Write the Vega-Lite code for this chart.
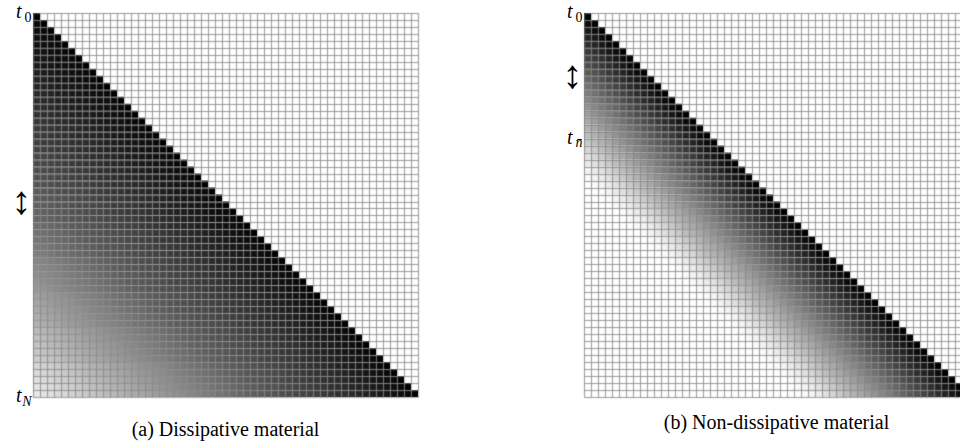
{
  "$schema": "https://vega.github.io/schema/vega-lite/v6.json",
  "background": "white",
  "padding": {"left": 5, "top": -3, "right": 0, "bottom": 0},
  "spacing": 138,
  "config": {"view": {"stroke": null}},
  "hconcat": [
    {
      "width": 385,
      "height": 384,
      "title": {"text": "(a) Dissipative material", "orient": "bottom", "anchor": "middle", "frame": "group", "font": "Liberation Serif, Times New Roman, serif", "fontSize": 20, "fontWeight": "normal", "color": "black", "baseline": "top", "offset": 12},
      "data": {
        "format": {"type": "csv", "parse": {"r": "number", "c": "number", "w": "number"}},
        "values": "r,c,w\n0,0,255\n1,0,245\n1,1,255\n2,0,242\n2,1,245\n2,2,255\n3,0,239\n3,1,242\n3,2,245\n3,3,255\n4,0,236\n4,1,239\n4,2,242\n4,3,245\n4,4,255\n5,0,233\n5,1,236\n5,2,239\n5,3,242\n5,4,245\n5,5,255\n6,0,230\n6,1,233\n6,2,236\n6,3,239\n6,4,242\n6,5,245\n6,6,255\n7,0,226\n7,1,230\n7,2,233\n7,3,236\n7,4,239\n7,5,242\n7,6,245\n7,7,255\n8,0,223\n8,1,226\n8,2,230\n8,3,233\n8,4,236\n8,5,239\n8,6,242\n8,7,245\n8,8,255\n9,0,220\n9,1,223\n9,2,226\n9,3,230\n9,4,233\n9,5,236\n9,6,239\n9,7,242\n9,8,245\n9,9,255\n10,0,216\n10,1,219\n10,2,223\n10,3,226\n10,4,229\n10,5,232\n10,6,235\n10,7,238\n10,8,242\n10,9,245\n10,10,255\n11,0,213\n11,1,216\n11,2,219\n11,3,223\n11,4,226\n11,5,229\n11,6,232\n11,7,235\n11,8,238\n11,9,242\n11,10,245\n11,11,255\n12,0,210\n12,1,213\n12,2,216\n12,3,219\n12,4,223\n12,5,226\n12,6,229\n12,7,232\n12,8,235\n12,9,238\n12,10,242\n12,11,245\n12,12,255\n13,0,207\n13,1,210\n13,2,213\n13,3,216\n13,4,219\n13,5,223\n13,6,226\n13,7,229\n13,8,232\n13,9,235\n13,10,238\n13,11,242\n13,12,245\n13,13,255\n14,0,204\n14,1,207\n14,2,210\n14,3,213\n14,4,216\n14,5,219\n14,6,223\n14,7,226\n14,8,229\n14,9,232\n14,10,235\n14,11,238\n14,12,242\n14,13,245\n14,14,255\n15,0,200\n15,1,203\n15,2,206\n15,3,209\n15,4,212\n15,5,215\n15,6,218\n15,7,222\n15,8,225\n15,9,228\n15,10,232\n15,11,235\n15,12,238\n15,13,241\n15,14,245\n15,15,255\n16,0,197\n16,1,200\n16,2,203\n16,3,206\n16,4,209\n16,5,212\n16,6,215\n16,7,218\n16,8,222\n16,9,225\n16,10,228\n16,11,232\n16,12,235\n16,13,238\n16,14,241\n16,15,245\n16,16,255\n17,0,194\n17,1,197\n17,2,200\n17,3,203\n17,4,206\n17,5,209\n17,6,212\n17,7,215\n17,8,218\n17,9,222\n17,10,225\n17,11,228\n17,12,232\n17,13,235\n17,14,238\n17,15,241\n17,16,245\n17,17,255\n18,0,191\n18,1,194\n18,2,197\n18,3,200\n18,4,203\n18,5,206\n18,6,209\n18,7,212\n18,8,215\n18,9,218\n18,10,222\n18,11,225\n18,12,228\n18,13,232\n18,14,235\n18,15,238\n18,16,241\n18,17,245\n18,18,255\n19,0,188\n19,1,191\n19,2,194\n19,3,197\n19,4,200\n19,5,203\n19,6,206\n19,7,209\n19,8,212\n19,9,215\n19,10,218\n19,11,222\n19,12,225\n19,13,228\n19,14,232\n19,15,235\n19,16,238\n19,17,241\n19,18,245\n19,19,255\n20,0,183\n20,1,186\n20,2,189\n20,3,192\n20,4,195\n20,5,198\n20,6,202\n20,7,205\n20,8,208\n20,9,211\n20,10,214\n20,11,217\n20,12,221\n20,13,224\n20,14,228\n20,15,231\n20,16,234\n20,17,238\n20,18,241\n20,19,245\n20,20,255\n21,0,180\n21,1,183\n21,2,186\n21,3,189\n21,4,192\n21,5,195\n21,6,198\n21,7,202\n21,8,205\n21,9,208\n21,10,211\n21,11,214\n21,12,217\n21,13,221\n21,14,224\n21,15,228\n21,16,231\n21,17,234\n21,18,238\n21,19,241\n21,20,245\n21,21,255\n22,0,177\n22,1,180\n22,2,183\n22,3,186\n22,4,189\n22,5,192\n22,6,195\n22,7,198\n22,8,202\n22,9,205\n22,10,208\n22,11,211\n22,12,214\n22,13,217\n22,14,221\n22,15,224\n22,16,228\n22,17,231\n22,18,234\n22,19,238\n22,20,241\n22,21,245\n22,22,255\n23,0,174\n23,1,177\n23,2,180\n23,3,183\n23,4,186\n23,5,189\n23,6,192\n23,7,195\n23,8,198\n23,9,202\n23,10,205\n23,11,208\n23,12,211\n23,13,214\n23,14,217\n23,15,221\n23,16,224\n23,17,228\n23,18,231\n23,19,234\n23,20,238\n23,21,241\n23,22,245\n23,23,255\n24,0,171\n24,1,174\n24,2,177\n24,3,180\n24,4,183\n24,5,186\n24,6,189\n24,7,192\n24,8,195\n24,9,198\n24,10,202\n24,11,205\n24,12,208\n24,13,211\n24,14,214\n24,15,217\n24,16,221\n24,17,224\n24,18,228\n24,19,231\n24,20,234\n24,21,238\n24,22,241\n24,23,245\n24,24,255\n25,0,165\n25,1,168\n25,2,171\n25,3,175\n25,4,178\n25,5,181\n25,6,184\n25,7,187\n25,8,191\n25,9,194\n25,10,197\n25,11,200\n25,12,203\n25,13,207\n25,14,210\n25,15,213\n25,16,217\n25,17,220\n25,18,224\n25,19,227\n25,20,231\n25,21,234\n25,22,238\n25,23,241\n25,24,245\n25,25,255\n26,0,162\n26,1,165\n26,2,168\n26,3,171\n26,4,175\n26,5,178\n26,6,181\n26,7,184\n26,8,187\n26,9,191\n26,10,194\n26,11,197\n26,12,200\n26,13,203\n26,14,207\n26,15,210\n26,16,213\n26,17,217\n26,18,220\n26,19,224\n26,20,227\n26,21,231\n26,22,234\n26,23,238\n26,24,241\n26,25,245\n26,26,255\n27,0,159\n27,1,162\n27,2,165\n27,3,168\n27,4,171\n27,5,175\n27,6,178\n27,7,181\n27,8,184\n27,9,187\n27,10,191\n27,11,194\n27,12,197\n27,13,200\n27,14,203\n27,15,207\n27,16,210\n27,17,213\n27,18,217\n27,19,220\n27,20,224\n27,21,227\n27,22,231\n27,23,234\n27,24,238\n27,25,241\n27,26,245\n27,27,255\n28,0,155\n28,1,159\n28,2,162\n28,3,165\n28,4,168\n28,5,171\n28,6,175\n28,7,178\n28,8,181\n28,9,184\n28,10,187\n28,11,191\n28,12,194\n28,13,197\n28,14,200\n28,15,203\n28,16,207\n28,17,210\n28,18,213\n28,19,217\n28,20,220\n28,21,224\n28,22,227\n28,23,231\n28,24,234\n28,25,238\n28,26,241\n28,27,245\n28,28,255\n29,0,151\n29,1,155\n29,2,159\n29,3,162\n29,4,165\n29,5,168\n29,6,171\n29,7,175\n29,8,178\n29,9,181\n29,10,184\n29,11,187\n29,12,191\n29,13,194\n29,14,197\n29,15,200\n29,16,203\n29,17,207\n29,18,210\n29,19,213\n29,20,217\n29,21,220\n29,22,224\n29,23,227\n29,24,231\n29,25,234\n29,26,238\n29,27,241\n29,28,245\n29,29,255\n30,0,144\n30,1,148\n30,2,152\n30,3,155\n30,4,159\n30,5,163\n30,6,166\n30,7,169\n30,8,172\n30,9,176\n30,10,179\n30,11,182\n30,12,186\n30,13,189\n30,14,192\n30,15,196\n30,16,199\n30,17,202\n30,18,205\n30,19,209\n30,20,212\n30,21,216\n30,22,219\n30,23,223\n30,24,226\n30,25,230\n30,26,234\n30,27,237\n30,28,241\n30,29,245\n30,30,255\n31,0,140\n31,1,144\n31,2,148\n31,3,152\n31,4,155\n31,5,159\n31,6,163\n31,7,166\n31,8,169\n31,9,172\n31,10,176\n31,11,179\n31,12,182\n31,13,186\n31,14,189\n31,15,192\n31,16,196\n31,17,199\n31,18,202\n31,19,205\n31,20,209\n31,21,212\n31,22,216\n31,23,219\n31,24,223\n31,25,226\n31,26,230\n31,27,234\n31,28,237\n31,29,241\n31,30,245\n31,31,255\n32,0,136\n32,1,140\n32,2,144\n32,3,148\n32,4,152\n32,5,155\n32,6,159\n32,7,163\n32,8,166\n32,9,169\n32,10,172\n32,11,176\n32,12,179\n32,13,182\n32,14,186\n32,15,189\n32,16,192\n32,17,196\n32,18,199\n32,19,202\n32,20,205\n32,21,209\n32,22,212\n32,23,216\n32,24,219\n32,25,223\n32,26,226\n32,27,230\n32,28,234\n32,29,237\n32,30,241\n32,31,245\n32,32,255\n33,0,132\n33,1,136\n33,2,140\n33,3,144\n33,4,148\n33,5,152\n33,6,155\n33,7,159\n33,8,163\n33,9,166\n33,10,169\n33,11,172\n33,12,176\n33,13,179\n33,14,182\n33,15,186\n33,16,189\n33,17,192\n33,18,196\n33,19,199\n33,20,202\n33,21,205\n33,22,209\n33,23,212\n33,24,216\n33,25,219\n33,26,223\n33,27,226\n33,28,230\n33,29,234\n33,30,237\n33,31,241\n33,32,245\n33,33,255\n34,0,128\n34,1,132\n34,2,136\n34,3,140\n34,4,144\n34,5,148\n34,6,152\n34,7,155\n34,8,159\n34,9,163\n34,10,166\n34,11,169\n34,12,172\n34,13,176\n34,14,179\n34,15,182\n34,16,186\n34,17,189\n34,18,192\n34,19,196\n34,20,199\n34,21,202\n34,22,205\n34,23,209\n34,24,212\n34,25,216\n34,26,219\n34,27,223\n34,28,226\n34,29,230\n34,30,234\n34,31,237\n34,32,241\n34,33,245\n34,34,255\n35,0,120\n35,1,124\n35,2,128\n35,3,132\n35,4,136\n35,5,140\n35,6,144\n35,7,148\n35,8,152\n35,9,156\n35,10,160\n35,11,164\n35,12,167\n35,13,170\n35,14,174\n35,15,177\n35,16,181\n35,17,184\n35,18,187\n35,19,191\n35,20,194\n35,21,198\n35,22,201\n35,23,204\n35,24,208\n35,25,211\n35,26,215\n35,27,218\n35,28,222\n35,29,226\n35,30,229\n35,31,233\n35,32,237\n35,33,241\n35,34,245\n35,35,255\n36,0,116\n36,1,120\n36,2,124\n36,3,128\n36,4,132\n36,5,136\n36,6,140\n36,7,144\n36,8,148\n36,9,152\n36,10,156\n36,11,160\n36,12,164\n36,13,167\n36,14,170\n36,15,174\n36,16,177\n36,17,181\n36,18,184\n36,19,187\n36,20,191\n36,21,194\n36,22,198\n36,23,201\n36,24,204\n36,25,208\n36,26,211\n36,27,215\n36,28,218\n36,29,222\n36,30,226\n36,31,229\n36,32,233\n36,33,237\n36,34,241\n36,35,245\n36,36,255\n37,0,112\n37,1,116\n37,2,120\n37,3,124\n37,4,128\n37,5,132\n37,6,136\n37,7,140\n37,8,144\n37,9,148\n37,10,152\n37,11,156\n37,12,160\n37,13,164\n37,14,167\n37,15,170\n37,16,174\n37,17,177\n37,18,181\n37,19,184\n37,20,187\n37,21,191\n37,22,194\n37,23,198\n37,24,201\n37,25,204\n37,26,208\n37,27,211\n37,28,215\n37,29,218\n37,30,222\n37,31,226\n37,32,229\n37,33,233\n37,34,237\n37,35,241\n37,36,245\n37,37,255\n38,0,107\n38,1,112\n38,2,116\n38,3,120\n38,4,124\n38,5,128\n38,6,132\n38,7,136\n38,8,140\n38,9,144\n38,10,148\n38,11,152\n38,12,156\n38,13,160\n38,14,164\n38,15,167\n38,16,170\n38,17,174\n38,18,177\n38,19,181\n38,20,184\n38,21,187\n38,22,191\n38,23,194\n38,24,198\n38,25,201\n38,26,204\n38,27,208\n38,28,211\n38,29,215\n38,30,218\n38,31,222\n38,32,226\n38,33,229\n38,34,233\n38,35,237\n38,36,241\n38,37,245\n38,38,255\n39,0,103\n39,1,107\n39,2,112\n39,3,116\n39,4,120\n39,5,124\n39,6,128\n39,7,132\n39,8,136\n39,9,140\n39,10,144\n39,11,148\n39,12,152\n39,13,156\n39,14,160\n39,15,164\n39,16,167\n39,17,170\n39,18,174\n39,19,177\n39,20,181\n39,21,184\n39,22,187\n39,23,191\n39,24,194\n39,25,198\n39,26,201\n39,27,204\n39,28,208\n39,29,211\n39,30,215\n39,31,218\n39,32,222\n39,33,226\n39,34,229\n39,35,233\n39,36,237\n39,37,241\n39,38,245\n39,39,255\n40,0,95\n40,1,99\n40,2,103\n40,3,107\n40,4,111\n40,5,116\n40,6,120\n40,7,124\n40,8,128\n40,9,132\n40,10,137\n40,11,141\n40,12,145\n40,13,149\n40,14,153\n40,15,158\n40,16,161\n40,17,165\n40,18,168\n40,19,172\n40,20,175\n40,21,179\n40,22,182\n40,23,186\n40,24,189\n40,25,193\n40,26,196\n40,27,200\n40,28,203\n40,29,207\n40,30,210\n40,31,214\n40,32,217\n40,33,221\n40,34,225\n40,35,229\n40,36,233\n40,37,237\n40,38,240\n40,39,245\n40,40,255\n41,0,90\n41,1,95\n41,2,99\n41,3,103\n41,4,107\n41,5,111\n41,6,116\n41,7,120\n41,8,124\n41,9,128\n41,10,132\n41,11,137\n41,12,141\n41,13,145\n41,14,149\n41,15,153\n41,16,158\n41,17,161\n41,18,165\n41,19,168\n41,20,172\n41,21,175\n41,22,179\n41,23,182\n41,24,186\n41,25,189\n41,26,193\n41,27,196\n41,28,200\n41,29,203\n41,30,207\n41,31,210\n41,32,214\n41,33,217\n41,34,221\n41,35,225\n41,36,229\n41,37,233\n41,38,237\n41,39,240\n41,40,245\n41,41,255\n42,0,86\n42,1,90\n42,2,95\n42,3,99\n42,4,103\n42,5,107\n42,6,111\n42,7,116\n42,8,120\n42,9,124\n42,10,128\n42,11,132\n42,12,137\n42,13,141\n42,14,145\n42,15,149\n42,16,153\n42,17,158\n42,18,161\n42,19,165\n42,20,168\n42,21,172\n42,22,175\n42,23,179\n42,24,182\n42,25,186\n42,26,189\n42,27,193\n42,28,196\n42,29,200\n42,30,203\n42,31,207\n42,32,210\n42,33,214\n42,34,217\n42,35,221\n42,36,225\n42,37,229\n42,38,233\n42,39,237\n42,40,240\n42,41,245\n42,42,255\n43,0,82\n43,1,86\n43,2,90\n43,3,95\n43,4,99\n43,5,103\n43,6,107\n43,7,111\n43,8,116\n43,9,120\n43,10,124\n43,11,128\n43,12,132\n43,13,137\n43,14,141\n43,15,145\n43,16,149\n43,17,153\n43,18,158\n43,19,161\n43,20,165\n43,21,168\n43,22,172\n43,23,175\n43,24,179\n43,25,182\n43,26,186\n43,27,189\n43,28,193\n43,29,196\n43,30,200\n43,31,203\n43,32,207\n43,33,210\n43,34,214\n43,35,217\n43,36,221\n43,37,225\n43,38,229\n43,39,233\n43,40,237\n43,41,240\n43,42,245\n43,43,255\n44,0,78\n44,1,82\n44,2,86\n44,3,90\n44,4,95\n44,5,99\n44,6,103\n44,7,107\n44,8,111\n44,9,116\n44,10,120\n44,11,124\n44,12,128\n44,13,132\n44,14,137\n44,15,141\n44,16,145\n44,17,149\n44,18,153\n44,19,158\n44,20,161\n44,21,165\n44,22,168\n44,23,172\n44,24,175\n44,25,179\n44,26,182\n44,27,186\n44,28,189\n44,29,193\n44,30,196\n44,31,200\n44,32,203\n44,33,207\n44,34,210\n44,35,214\n44,36,217\n44,37,221\n44,38,225\n44,39,229\n44,40,233\n44,41,237\n44,42,240\n44,43,245\n44,44,255\n45,0,69\n45,1,73\n45,2,77\n45,3,81\n45,4,86\n45,5,90\n45,6,94\n45,7,99\n45,8,103\n45,9,107\n45,10,112\n45,11,116\n45,12,120\n45,13,125\n45,14,129\n45,15,133\n45,16,138\n45,17,142\n45,18,146\n45,19,150\n45,20,155\n45,21,159\n45,22,163\n45,23,166\n45,24,170\n45,25,173\n45,26,177\n45,27,180\n45,28,184\n45,29,188\n45,30,191\n45,31,195\n45,32,198\n45,33,202\n45,34,206\n45,35,209\n45,36,213\n45,37,217\n45,38,221\n45,39,224\n45,40,228\n45,41,232\n45,42,236\n45,43,240\n45,44,245\n45,45,255\n46,0,64\n46,1,69\n46,2,73\n46,3,77\n46,4,81\n46,5,86\n46,6,90\n46,7,94\n46,8,99\n46,9,103\n46,10,107\n46,11,112\n46,12,116\n46,13,120\n46,14,125\n46,15,129\n46,16,133\n46,17,138\n46,18,142\n46,19,146\n46,20,150\n46,21,155\n46,22,159\n46,23,163\n46,24,166\n46,25,170\n46,26,173\n46,27,177\n46,28,180\n46,29,184\n46,30,188\n46,31,191\n46,32,195\n46,33,198\n46,34,202\n46,35,206\n46,36,209\n46,37,213\n46,38,217\n46,39,221\n46,40,224\n46,41,228\n46,42,232\n46,43,236\n46,44,240\n46,45,245\n46,46,255\n47,0,60\n47,1,64\n47,2,69\n47,3,73\n47,4,77\n47,5,81\n47,6,86\n47,7,90\n47,8,94\n47,9,99\n47,10,103\n47,11,107\n47,12,112\n47,13,116\n47,14,120\n47,15,125\n47,16,129\n47,17,133\n47,18,138\n47,19,142\n47,20,146\n47,21,150\n47,22,155\n47,23,159\n47,24,163\n47,25,166\n47,26,170\n47,27,173\n47,28,177\n47,29,180\n47,30,184\n47,31,188\n47,32,191\n47,33,195\n47,34,198\n47,35,202\n47,36,206\n47,37,209\n47,38,213\n47,39,217\n47,40,221\n47,41,224\n47,42,228\n47,43,232\n47,44,236\n47,45,240\n47,46,245\n47,47,255\n48,0,56\n48,1,60\n48,2,64\n48,3,69\n48,4,73\n48,5,77\n48,6,81\n48,7,86\n48,8,90\n48,9,94\n48,10,99\n48,11,103\n48,12,107\n48,13,112\n48,14,116\n48,15,120\n48,16,125\n48,17,129\n48,18,133\n48,19,138\n48,20,142\n48,21,146\n48,22,150\n48,23,155\n48,24,159\n48,25,163\n48,26,166\n48,27,170\n48,28,173\n48,29,177\n48,30,180\n48,31,184\n48,32,188\n48,33,191\n48,34,195\n48,35,198\n48,36,202\n48,37,206\n48,38,209\n48,39,213\n48,40,217\n48,41,221\n48,42,224\n48,43,228\n48,44,232\n48,45,236\n48,46,240\n48,47,245\n48,48,255\n49,0,51\n49,1,56\n49,2,60\n49,3,64\n49,4,69\n49,5,73\n49,6,77\n49,7,81\n49,8,86\n49,9,90\n49,10,94\n49,11,99\n49,12,103\n49,13,107\n49,14,112\n49,15,116\n49,16,120\n49,17,125\n49,18,129\n49,19,133\n49,20,138\n49,21,142\n49,22,146\n49,23,150\n49,24,155\n49,25,159\n49,26,163\n49,27,166\n49,28,170\n49,29,173\n49,30,177\n49,31,180\n49,32,184\n49,33,188\n49,34,191\n49,35,195\n49,36,198\n49,37,202\n49,38,206\n49,39,209\n49,40,213\n49,41,217\n49,42,221\n49,43,224\n49,44,228\n49,45,232\n49,46,236\n49,47,240\n49,48,245\n49,49,255\n50,0,41\n50,1,46\n50,2,50\n50,3,54\n50,4,59\n50,5,63\n50,6,68\n50,7,72\n50,8,77\n50,9,81\n50,10,85\n50,11,90\n50,12,94\n50,13,99\n50,14,103\n50,15,108\n50,16,112\n50,17,116\n50,18,121\n50,19,125\n50,20,130\n50,21,134\n50,22,139\n50,23,143\n50,24,147\n50,25,152\n50,26,156\n50,27,160\n50,28,164\n50,29,168\n50,30,171\n50,31,175\n50,32,179\n50,33,182\n50,34,186\n50,35,190\n50,36,193\n50,37,197\n50,38,201\n50,39,205\n50,40,208\n50,41,212\n50,42,216\n50,43,220\n50,44,224\n50,45,228\n50,46,232\n50,47,236\n50,48,240\n50,49,245\n50,50,255\n51,0,37\n51,1,41\n51,2,46\n51,3,50\n51,4,54\n51,5,59\n51,6,63\n51,7,68\n51,8,72\n51,9,77\n51,10,81\n51,11,85\n51,12,90\n51,13,94\n51,14,99\n51,15,103\n51,16,108\n51,17,112\n51,18,116\n51,19,121\n51,20,125\n51,21,130\n51,22,134\n51,23,139\n51,24,143\n51,25,147\n51,26,152\n51,27,156\n51,28,160\n51,29,164\n51,30,168\n51,31,171\n51,32,175\n51,33,179\n51,34,182\n51,35,186\n51,36,190\n51,37,193\n51,38,197\n51,39,201\n51,40,205\n51,41,208\n51,42,212\n51,43,216\n51,44,220\n51,45,224\n51,46,228\n51,47,232\n51,48,236\n51,49,240\n51,50,245\n51,51,255\n52,0,32\n52,1,37\n52,2,41\n52,3,46\n52,4,50\n52,5,54\n52,6,59\n52,7,63\n52,8,68\n52,9,72\n52,10,77\n52,11,81\n52,12,85\n52,13,90\n52,14,94\n52,15,99\n52,16,103\n52,17,108\n52,18,112\n52,19,116\n52,20,121\n52,21,125\n52,22,130\n52,23,134\n52,24,139\n52,25,143\n52,26,147\n52,27,152\n52,28,156\n52,29,160\n52,30,164\n52,31,168\n52,32,171\n52,33,175\n52,34,179\n52,35,182\n52,36,186\n52,37,190\n52,38,193\n52,39,197\n52,40,201\n52,41,205\n52,42,208\n52,43,212\n52,44,216\n52,45,220\n52,46,224\n52,47,228\n52,48,232\n52,49,236\n52,50,240\n52,51,245\n52,52,255\n53,0,28\n53,1,32\n53,2,37\n53,3,41\n53,4,46\n53,5,50\n53,6,54\n53,7,59\n53,8,63\n53,9,68\n53,10,72\n53,11,77\n53,12,81\n53,13,85\n53,14,90\n53,15,94\n53,16,99\n53,17,103\n53,18,108\n53,19,112\n53,20,116\n53,21,121\n53,22,125\n53,23,130\n53,24,134\n53,25,139\n53,26,143\n53,27,147\n53,28,152\n53,29,156\n53,30,160\n53,31,164\n53,32,168\n53,33,171\n53,34,175\n53,35,179\n53,36,182\n53,37,186\n53,38,190\n53,39,193\n53,40,197\n53,41,201\n53,42,205\n53,43,208\n53,44,212\n53,45,216\n53,46,220\n53,47,224\n53,48,228\n53,49,232\n53,50,236\n53,51,240\n53,52,245\n53,53,255\n54,0,23\n54,1,28\n54,2,32\n54,3,37\n54,4,41\n54,5,46\n54,6,50\n54,7,54\n54,8,59\n54,9,63\n54,10,68\n54,11,72\n54,12,77\n54,13,81\n54,14,85\n54,15,90\n54,16,94\n54,17,99\n54,18,103\n54,19,108\n54,20,112\n54,21,116\n54,22,121\n54,23,125\n54,24,130\n54,25,134\n54,26,139\n54,27,143\n54,28,147\n54,29,152\n54,30,156\n54,31,160\n54,32,164\n54,33,168\n54,34,171\n54,35,175\n54,36,179\n54,37,182\n54,38,186\n54,39,190\n54,40,193\n54,41,197\n54,42,201\n54,43,205\n54,44,208\n54,45,212\n54,46,216\n54,47,220\n54,48,224\n54,49,228\n54,50,232\n54,51,236\n54,52,240\n54,53,245\n54,54,255"
      },
      "layer": [
        {
          "mark": {"type": "rect"},
          "encoding": {
            "x": {"field": "c", "type": "ordinal", "scale": {"paddingInner": 0, "paddingOuter": 0},
              "axis": {"orient": "bottom", "title": null, "labels": false, "ticks": false, "domain": false, "grid": true, "tickBand": "extent", "gridColor": "#8a8a8a", "gridOpacity": 0.6, "gridWidth": 1.5, "zindex": 1}},
            "y": {"field": "r", "type": "ordinal", "scale": {"paddingInner": 0, "paddingOuter": 0},
              "axis": {"orient": "left", "title": null, "domain": false, "ticks": false, "tickSize": 0, "grid": true, "tickBand": "extent", "gridColor": "#8a8a8a", "gridOpacity": 0.6, "gridWidth": 1.5, "zindex": 1,
                "labelOverlap": false, "labelPadding": 12, "minExtent": 28, "maxExtent": 28,
                "labelExpr": "datum.value === 0 || datum.value === 54 ? 't' : datum.value === 28 ? '↕' : ''",
                "labelFont": "Liberation Serif, Times New Roman, serif", "labelColor": "black", "labelOffset": 1.5,
                "labelFontSize": {"condition": {"test": "datum.value === 28", "value": 40}, "value": 20},
                "labelFontStyle": {"condition": {"test": "datum.value === 28", "value": "normal"}, "value": "italic"},
                "labelAlign": {"condition": {"test": "datum.value === 28", "value": "center"}, "value": "right"},
                "labelBaseline": {"condition": {"test": "datum.value === 54", "value": "middle"}, "value": "alphabetic"}}},
            "color": {"field": "w", "type": "quantitative", "scale": {"domain": [0, 255], "range": ["#ffffff", "#000000"], "interpolate": "rgb"}, "legend": null}
          }
        },
        {
          "mark": {"type": "rule", "opacity": 0},
          "encoding": {
            "y": {"field": "r", "type": "ordinal",
              "axis": {"orient": "left", "title": null, "domain": false, "ticks": false, "tickSize": 0, "grid": false,
                "labelOverlap": false, "labelPadding": 2, "minExtent": 28, "maxExtent": 28,
                "labelExpr": "datum.value === 0 ? '0' : datum.value === 54 ? 'N' : ''",
                "labelFont": "Liberation Serif, Times New Roman, serif", "labelFontSize": 14, "labelColor": "black", "labelOffset": 1.3,
                "labelFontStyle": {"condition": {"test": "datum.value === 0", "value": "normal"}, "value": "italic"},
                "labelBaseline": {"condition": {"test": "datum.value === 0", "value": "middle"}, "value": "top"}}}
          }
        }
      ],
      "resolve": {"axis": {"y": "independent"}}
    },
    {
      "width": 385,
      "height": 384,
      "title": {"text": "(b) Non-dissipative material", "orient": "bottom", "anchor": "middle", "frame": "group", "font": "Liberation Serif, Times New Roman, serif", "fontSize": 20, "fontWeight": "normal", "color": "black", "baseline": "top", "offset": 12},
      "data": {
        "format": {"type": "csv", "parse": {"r": "number", "c": "number", "w": "number"}},
        "values": "r,c,w\n0,0,255\n1,0,243\n1,1,255\n2,0,231\n2,1,243\n2,2,255\n3,0,219\n3,1,231\n3,2,243\n3,3,255\n4,0,208\n4,1,219\n4,2,231\n4,3,243\n4,4,255\n5,0,197\n5,1,208\n5,2,219\n5,3,231\n5,4,243\n5,5,255\n6,0,186\n6,1,197\n6,2,208\n6,3,219\n6,4,231\n6,5,243\n6,6,255\n7,0,175\n7,1,186\n7,2,197\n7,3,208\n7,4,219\n7,5,231\n7,6,243\n7,7,255\n8,0,164\n8,1,175\n8,2,186\n8,3,197\n8,4,208\n8,5,219\n8,6,231\n8,7,243\n8,8,255\n9,0,153\n9,1,164\n9,2,175\n9,3,186\n9,4,197\n9,5,208\n9,6,219\n9,7,231\n9,8,243\n9,9,255\n10,0,142\n10,1,153\n10,2,164\n10,3,175\n10,4,186\n10,5,197\n10,6,208\n10,7,219\n10,8,231\n10,9,243\n10,10,255\n11,0,131\n11,1,142\n11,2,153\n11,3,164\n11,4,175\n11,5,186\n11,6,197\n11,7,208\n11,8,219\n11,9,231\n11,10,243\n11,11,255\n12,0,120\n12,1,131\n12,2,142\n12,3,153\n12,4,164\n12,5,175\n12,6,186\n12,7,197\n12,8,208\n12,9,219\n12,10,231\n12,11,243\n12,12,255\n13,0,109\n13,1,120\n13,2,131\n13,3,142\n13,4,153\n13,5,164\n13,6,175\n13,7,186\n13,8,197\n13,9,208\n13,10,219\n13,11,231\n13,12,243\n13,13,255\n14,0,98\n14,1,109\n14,2,120\n14,3,131\n14,4,142\n14,5,153\n14,6,164\n14,7,175\n14,8,186\n14,9,197\n14,10,208\n14,11,219\n14,12,231\n14,13,243\n14,14,255\n15,0,87\n15,1,98\n15,2,109\n15,3,120\n15,4,131\n15,5,142\n15,6,153\n15,7,164\n15,8,175\n15,9,186\n15,10,197\n15,11,208\n15,12,219\n15,13,231\n15,14,243\n15,15,255\n16,0,77\n16,1,87\n16,2,98\n16,3,109\n16,4,120\n16,5,131\n16,6,142\n16,7,153\n16,8,164\n16,9,175\n16,10,186\n16,11,197\n16,12,208\n16,13,219\n16,14,231\n16,15,243\n16,16,255\n17,0,66\n17,1,77\n17,2,87\n17,3,98\n17,4,109\n17,5,120\n17,6,131\n17,7,142\n17,8,153\n17,9,164\n17,10,175\n17,11,186\n17,12,197\n17,13,208\n17,14,219\n17,15,231\n17,16,243\n17,17,255\n18,0,54\n18,1,66\n18,2,77\n18,3,87\n18,4,98\n18,5,109\n18,6,120\n18,7,131\n18,8,142\n18,9,153\n18,10,164\n18,11,175\n18,12,186\n18,13,197\n18,14,208\n18,15,219\n18,16,231\n18,17,243\n18,18,255\n19,0,42\n19,1,54\n19,2,66\n19,3,77\n19,4,87\n19,5,98\n19,6,109\n19,7,120\n19,8,131\n19,9,142\n19,10,153\n19,11,164\n19,12,175\n19,13,186\n19,14,197\n19,15,208\n19,16,219\n19,17,231\n19,18,243\n19,19,255\n20,0,31\n20,1,42\n20,2,54\n20,3,66\n20,4,77\n20,5,87\n20,6,98\n20,7,109\n20,8,120\n20,9,131\n20,10,142\n20,11,153\n20,12,164\n20,13,175\n20,14,186\n20,15,197\n20,16,208\n20,17,219\n20,18,231\n20,19,243\n20,20,255\n21,0,21\n21,1,31\n21,2,42\n21,3,54\n21,4,66\n21,5,77\n21,6,87\n21,7,98\n21,8,109\n21,9,120\n21,10,131\n21,11,142\n21,12,153\n21,13,164\n21,14,175\n21,15,186\n21,16,197\n21,17,208\n21,18,219\n21,19,231\n21,20,243\n21,21,255\n22,0,12\n22,1,21\n22,2,31\n22,3,42\n22,4,54\n22,5,66\n22,6,77\n22,7,87\n22,8,98\n22,9,109\n22,10,120\n22,11,131\n22,12,142\n22,13,153\n22,14,164\n22,15,175\n22,16,186\n22,17,197\n22,18,208\n22,19,219\n22,20,231\n22,21,243\n22,22,255\n23,0,5\n23,1,12\n23,2,21\n23,3,31\n23,4,42\n23,5,54\n23,6,66\n23,7,77\n23,8,87\n23,9,98\n23,10,109\n23,11,120\n23,12,131\n23,13,142\n23,14,153\n23,15,164\n23,16,175\n23,17,186\n23,18,197\n23,19,208\n23,20,219\n23,21,231\n23,22,243\n23,23,255\n24,1,5\n24,2,12\n24,3,21\n24,4,31\n24,5,42\n24,6,54\n24,7,66\n24,8,77\n24,9,87\n24,10,98\n24,11,109\n24,12,120\n24,13,131\n24,14,142\n24,15,153\n24,16,164\n24,17,175\n24,18,186\n24,19,197\n24,20,208\n24,21,219\n24,22,231\n24,23,243\n24,24,255\n25,2,5\n25,3,12\n25,4,21\n25,5,31\n25,6,42\n25,7,54\n25,8,66\n25,9,77\n25,10,87\n25,11,98\n25,12,109\n25,13,120\n25,14,131\n25,15,142\n25,16,153\n25,17,164\n25,18,175\n25,19,186\n25,20,197\n25,21,208\n25,22,219\n25,23,231\n25,24,243\n25,25,255\n26,3,5\n26,4,12\n26,5,21\n26,6,31\n26,7,42\n26,8,54\n26,9,66\n26,10,77\n26,11,87\n26,12,98\n26,13,109\n26,14,120\n26,15,131\n26,16,142\n26,17,153\n26,18,164\n26,19,175\n26,20,186\n26,21,197\n26,22,208\n26,23,219\n26,24,231\n26,25,243\n26,26,255\n27,4,5\n27,5,12\n27,6,21\n27,7,31\n27,8,42\n27,9,54\n27,10,66\n27,11,77\n27,12,87\n27,13,98\n27,14,109\n27,15,120\n27,16,131\n27,17,142\n27,18,153\n27,19,164\n27,20,175\n27,21,186\n27,22,197\n27,23,208\n27,24,219\n27,25,231\n27,26,243\n27,27,255\n28,5,5\n28,6,12\n28,7,21\n28,8,31\n28,9,42\n28,10,54\n28,11,66\n28,12,77\n28,13,87\n28,14,98\n28,15,109\n28,16,120\n28,17,131\n28,18,142\n28,19,153\n28,20,164\n28,21,175\n28,22,186\n28,23,197\n28,24,208\n28,25,219\n28,26,231\n28,27,243\n28,28,255\n29,6,5\n29,7,12\n29,8,21\n29,9,31\n29,10,42\n29,11,54\n29,12,66\n29,13,77\n29,14,87\n29,15,98\n29,16,109\n29,17,120\n29,18,131\n29,19,142\n29,20,153\n29,21,164\n29,22,175\n29,23,186\n29,24,197\n29,25,208\n29,26,219\n29,27,231\n29,28,243\n29,29,255\n30,7,5\n30,8,12\n30,9,21\n30,10,31\n30,11,42\n30,12,54\n30,13,66\n30,14,77\n30,15,87\n30,16,98\n30,17,109\n30,18,120\n30,19,131\n30,20,142\n30,21,153\n30,22,164\n30,23,175\n30,24,186\n30,25,197\n30,26,208\n30,27,219\n30,28,231\n30,29,243\n30,30,255\n31,8,5\n31,9,12\n31,10,21\n31,11,31\n31,12,42\n31,13,54\n31,14,66\n31,15,77\n31,16,87\n31,17,98\n31,18,109\n31,19,120\n31,20,131\n31,21,142\n31,22,153\n31,23,164\n31,24,175\n31,25,186\n31,26,197\n31,27,208\n31,28,219\n31,29,231\n31,30,243\n31,31,255\n32,9,5\n32,10,12\n32,11,21\n32,12,31\n32,13,42\n32,14,54\n32,15,66\n32,16,77\n32,17,87\n32,18,98\n32,19,109\n32,20,120\n32,21,131\n32,22,142\n32,23,153\n32,24,164\n32,25,175\n32,26,186\n32,27,197\n32,28,208\n32,29,219\n32,30,231\n32,31,243\n32,32,255\n33,10,5\n33,11,12\n33,12,21\n33,13,31\n33,14,42\n33,15,54\n33,16,66\n33,17,77\n33,18,87\n33,19,98\n33,20,109\n33,21,120\n33,22,131\n33,23,142\n33,24,153\n33,25,164\n33,26,175\n33,27,186\n33,28,197\n33,29,208\n33,30,219\n33,31,231\n33,32,243\n33,33,255\n34,11,5\n34,12,12\n34,13,21\n34,14,31\n34,15,42\n34,16,54\n34,17,66\n34,18,77\n34,19,87\n34,20,98\n34,21,109\n34,22,120\n34,23,131\n34,24,142\n34,25,153\n34,26,164\n34,27,175\n34,28,186\n34,29,197\n34,30,208\n34,31,219\n34,32,231\n34,33,243\n34,34,255\n35,12,5\n35,13,12\n35,14,21\n35,15,31\n35,16,42\n35,17,54\n35,18,66\n35,19,77\n35,20,87\n35,21,98\n35,22,109\n35,23,120\n35,24,131\n35,25,142\n35,26,153\n35,27,164\n35,28,175\n35,29,186\n35,30,197\n35,31,208\n35,32,219\n35,33,231\n35,34,243\n35,35,255\n36,13,5\n36,14,12\n36,15,21\n36,16,31\n36,17,42\n36,18,54\n36,19,66\n36,20,77\n36,21,87\n36,22,98\n36,23,109\n36,24,120\n36,25,131\n36,26,142\n36,27,153\n36,28,164\n36,29,175\n36,30,186\n36,31,197\n36,32,208\n36,33,219\n36,34,231\n36,35,243\n36,36,255\n37,14,5\n37,15,12\n37,16,21\n37,17,31\n37,18,42\n37,19,54\n37,20,66\n37,21,77\n37,22,87\n37,23,98\n37,24,109\n37,25,120\n37,26,131\n37,27,142\n37,28,153\n37,29,164\n37,30,175\n37,31,186\n37,32,197\n37,33,208\n37,34,219\n37,35,231\n37,36,243\n37,37,255\n38,15,5\n38,16,12\n38,17,21\n38,18,31\n38,19,42\n38,20,54\n38,21,66\n38,22,77\n38,23,87\n38,24,98\n38,25,109\n38,26,120\n38,27,131\n38,28,142\n38,29,153\n38,30,164\n38,31,175\n38,32,186\n38,33,197\n38,34,208\n38,35,219\n38,36,231\n38,37,243\n38,38,255\n39,16,5\n39,17,12\n39,18,21\n39,19,31\n39,20,42\n39,21,54\n39,22,66\n39,23,77\n39,24,87\n39,25,98\n39,26,109\n39,27,120\n39,28,131\n39,29,142\n39,30,153\n39,31,164\n39,32,175\n39,33,186\n39,34,197\n39,35,208\n39,36,219\n39,37,231\n39,38,243\n39,39,255\n40,17,5\n40,18,12\n40,19,21\n40,20,31\n40,21,42\n40,22,54\n40,23,66\n40,24,77\n40,25,87\n40,26,98\n40,27,109\n40,28,120\n40,29,131\n40,30,142\n40,31,153\n40,32,164\n40,33,175\n40,34,186\n40,35,197\n40,36,208\n40,37,219\n40,38,231\n40,39,243\n40,40,255\n41,18,5\n41,19,12\n41,20,21\n41,21,31\n41,22,42\n41,23,54\n41,24,66\n41,25,77\n41,26,87\n41,27,98\n41,28,109\n41,29,120\n41,30,131\n41,31,142\n41,32,153\n41,33,164\n41,34,175\n41,35,186\n41,36,197\n41,37,208\n41,38,219\n41,39,231\n41,40,243\n41,41,255\n42,19,5\n42,20,12\n42,21,21\n42,22,31\n42,23,42\n42,24,54\n42,25,66\n42,26,77\n42,27,87\n42,28,98\n42,29,109\n42,30,120\n42,31,131\n42,32,142\n42,33,153\n42,34,164\n42,35,175\n42,36,186\n42,37,197\n42,38,208\n42,39,219\n42,40,231\n42,41,243\n42,42,255\n43,20,5\n43,21,12\n43,22,21\n43,23,31\n43,24,42\n43,25,54\n43,26,66\n43,27,77\n43,28,87\n43,29,98\n43,30,109\n43,31,120\n43,32,131\n43,33,142\n43,34,153\n43,35,164\n43,36,175\n43,37,186\n43,38,197\n43,39,208\n43,40,219\n43,41,231\n43,42,243\n43,43,255\n44,21,5\n44,22,12\n44,23,21\n44,24,31\n44,25,42\n44,26,54\n44,27,66\n44,28,77\n44,29,87\n44,30,98\n44,31,109\n44,32,120\n44,33,131\n44,34,142\n44,35,153\n44,36,164\n44,37,175\n44,38,186\n44,39,197\n44,40,208\n44,41,219\n44,42,231\n44,43,243\n44,44,255\n45,22,5\n45,23,12\n45,24,21\n45,25,31\n45,26,42\n45,27,54\n45,28,66\n45,29,77\n45,30,87\n45,31,98\n45,32,109\n45,33,120\n45,34,131\n45,35,142\n45,36,153\n45,37,164\n45,38,175\n45,39,186\n45,40,197\n45,41,208\n45,42,219\n45,43,231\n45,44,243\n45,45,255\n46,23,5\n46,24,12\n46,25,21\n46,26,31\n46,27,42\n46,28,54\n46,29,66\n46,30,77\n46,31,87\n46,32,98\n46,33,109\n46,34,120\n46,35,131\n46,36,142\n46,37,153\n46,38,164\n46,39,175\n46,40,186\n46,41,197\n46,42,208\n46,43,219\n46,44,231\n46,45,243\n46,46,255\n47,24,5\n47,25,12\n47,26,21\n47,27,31\n47,28,42\n47,29,54\n47,30,66\n47,31,77\n47,32,87\n47,33,98\n47,34,109\n47,35,120\n47,36,131\n47,37,142\n47,38,153\n47,39,164\n47,40,175\n47,41,186\n47,42,197\n47,43,208\n47,44,219\n47,45,231\n47,46,243\n47,47,255\n48,25,5\n48,26,12\n48,27,21\n48,28,31\n48,29,42\n48,30,54\n48,31,66\n48,32,77\n48,33,87\n48,34,98\n48,35,109\n48,36,120\n48,37,131\n48,38,142\n48,39,153\n48,40,164\n48,41,175\n48,42,186\n48,43,197\n48,44,208\n48,45,219\n48,46,231\n48,47,243\n48,48,255\n49,26,5\n49,27,12\n49,28,21\n49,29,31\n49,30,42\n49,31,54\n49,32,66\n49,33,77\n49,34,87\n49,35,98\n49,36,109\n49,37,120\n49,38,131\n49,39,142\n49,40,153\n49,41,164\n49,42,175\n49,43,186\n49,44,197\n49,45,208\n49,46,219\n49,47,231\n49,48,243\n49,49,255\n50,27,5\n50,28,12\n50,29,21\n50,30,31\n50,31,42\n50,32,54\n50,33,66\n50,34,77\n50,35,87\n50,36,98\n50,37,109\n50,38,120\n50,39,131\n50,40,142\n50,41,153\n50,42,164\n50,43,175\n50,44,186\n50,45,197\n50,46,208\n50,47,219\n50,48,231\n50,49,243\n50,50,255\n51,28,5\n51,29,12\n51,30,21\n51,31,31\n51,32,42\n51,33,54\n51,34,66\n51,35,77\n51,36,87\n51,37,98\n51,38,109\n51,39,120\n51,40,131\n51,41,142\n51,42,153\n51,43,164\n51,44,175\n51,45,186\n51,46,197\n51,47,208\n51,48,219\n51,49,231\n51,50,243\n51,51,255\n52,29,5\n52,30,12\n52,31,21\n52,32,31\n52,33,42\n52,34,54\n52,35,66\n52,36,77\n52,37,87\n52,38,98\n52,39,109\n52,40,120\n52,41,131\n52,42,142\n52,43,153\n52,44,164\n52,45,175\n52,46,186\n52,47,197\n52,48,208\n52,49,219\n52,50,231\n52,51,243\n52,52,255\n53,30,5\n53,31,12\n53,32,21\n53,33,31\n53,34,42\n53,35,54\n53,36,66\n53,37,77\n53,38,87\n53,39,98\n53,40,109\n53,41,120\n53,42,131\n53,43,142\n53,44,153\n53,45,164\n53,46,175\n53,47,186\n53,48,197\n53,49,208\n53,50,219\n53,51,231\n53,52,243\n53,53,255\n54,31,5\n54,32,12\n54,33,21\n54,34,31\n54,35,42\n54,36,54\n54,37,66\n54,38,77\n54,39,87\n54,40,98\n54,41,109\n54,42,120\n54,43,131\n54,44,142\n54,45,153\n54,46,164\n54,47,175\n54,48,186\n54,49,197\n54,50,208\n54,51,219\n54,52,231\n54,53,243\n54,54,255"
      },
      "layer": [
        {
          "mark": {"type": "rect"},
          "encoding": {
            "x": {"field": "c", "type": "ordinal", "scale": {"paddingInner": 0, "paddingOuter": 0},
              "axis": {"orient": "bottom", "title": null, "labels": false, "ticks": false, "domain": false, "grid": true, "tickBand": "extent", "gridColor": "#8a8a8a", "gridOpacity": 0.6, "gridWidth": 1.5, "zindex": 1}},
            "y": {"field": "r", "type": "ordinal", "scale": {"paddingInner": 0, "paddingOuter": 0},
              "axis": {"orient": "left", "title": null, "domain": false, "ticks": false, "tickSize": 0, "grid": true, "tickBand": "extent", "gridColor": "#8a8a8a", "gridOpacity": 0.6, "gridWidth": 1.5, "zindex": 1,
                "labelOverlap": false, "labelPadding": 12, "minExtent": 28, "maxExtent": 28,
                "labelExpr": "datum.value === 0 || datum.value === 18 ? 't' : datum.value === 10 ? '↕' : ''",
                "labelFont": "Liberation Serif, Times New Roman, serif", "labelColor": "black", "labelOffset": 1.5,
                "labelFontSize": {"condition": {"test": "datum.value === 10", "value": 40}, "value": 20},
                "labelFontStyle": {"condition": {"test": "datum.value === 10", "value": "normal"}, "value": "italic"},
                "labelAlign": {"condition": {"test": "datum.value === 10", "value": "center"}, "value": "right"},
                "labelBaseline": "alphabetic"}},
            "color": {"field": "w", "type": "quantitative", "scale": {"domain": [0, 255], "range": ["#ffffff", "#000000"], "interpolate": "rgb"}, "legend": null}
          }
        },
        {
          "mark": {"type": "rule", "opacity": 0},
          "encoding": {
            "y": {"field": "r", "type": "ordinal",
              "axis": {"orient": "left", "title": null, "domain": false, "ticks": false, "tickSize": 0, "grid": false,
                "labelOverlap": false, "labelPadding": 2, "minExtent": 28, "maxExtent": 28,
                "labelExpr": "datum.value === 0 ? '0' : datum.value === 18 ? 'n̄' : ''",
                "labelFont": "Liberation Serif, Times New Roman, serif", "labelFontSize": 14, "labelColor": "black", "labelOffset": 1.3,
                "labelFontStyle": {"condition": {"test": "datum.value === 0", "value": "normal"}, "value": "italic"},
                "labelBaseline": "middle"}}
          }
        }
      ],
      "resolve": {"axis": {"y": "independent"}}
    }
  ]
}
